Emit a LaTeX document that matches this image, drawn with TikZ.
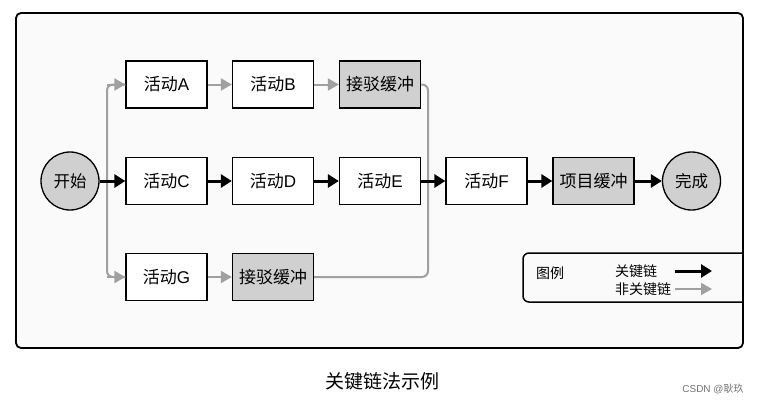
\documentclass[tikz,border=0pt]{standalone}
\usepackage{fontspec}
\setmainfont{Liberation Sans}
\newfontfamily\cjk{Noto Sans CJK SC}
\usetikzlibrary{arrows.meta}
\definecolor{boxgray}{HTML}{D0D0D0}
\definecolor{linegray}{HTML}{A0A0A0}
\definecolor{bggray}{HTML}{FAFAFA}
\tikzset{
  actbox/.style={draw=black, line width=1.3pt, fill=white, minimum width=81pt, minimum height=47pt, inner sep=0pt, font=\fontsize{17}{17}\selectfont},
  bufbox/.style={actbox, fill=boxgray},
  endpt/.style={draw=black, line width=1.3pt, fill=boxgray, circle, minimum size=58pt, inner sep=0pt, font=\fontsize{16.5}{16.5}\selectfont},
  crit/.style={line width=3pt, -{Triangle[length=11pt,width=13pt]}},
  noncrit/.style={draw=linegray, line width=2pt, -{Triangle[length=11pt,width=12pt]}, color=linegray},
  grayline/.style={draw=linegray, line width=2pt, rounded corners=6pt},
  legtext/.style={font=\fontsize{14}{14}\selectfont, inner sep=0pt}
}
\begin{document}
\begin{tikzpicture}[x=1pt,y=-1pt]
\useasboundingbox (0,0) rectangle (763,404);
\fill[white] (0,0) rectangle (763,404);
\draw[line width=1.8pt, fill=bggray, rounded corners=5pt] (16,13) rectangle (743,348);

% row 1
\node[actbox] (A) at (166.5,84.5) {{\cjk 活动}A};
\node[actbox] (B) at (273,84.5) {{\cjk 活动}B};
\node[bufbox] (J1) at (380,84.5) {\cjk 接驳缓冲};
% row 2
\node[endpt] (S) at (70,181) {\cjk 开始};
\node[actbox] (C) at (166.5,181) {{\cjk 活动}C};
\node[actbox] (D) at (273,181) {{\cjk 活动}D};
\node[actbox] (E) at (380,181) {{\cjk 活动}E};
\node[actbox] (F) at (486.5,181) {{\cjk 活动}F};
\node[bufbox] (P) at (593.5,181) {\cjk 项目缓冲};
\node[endpt] (Z) at (691.5,181) {\cjk 完成};
% row 3
\node[actbox] (G) at (166.5,277) {{\cjk 活动}G};
\node[bufbox] (J2) at (273,277) {\cjk 接驳缓冲};

% non-critical
\coordinate (sp) at (107,181);
\coordinate (mg) at (428,181);
\draw[grayline] (sp) -- (107,100) |- (A.west);
\draw[grayline] (sp) -- (107,260) |- (G.west);
\draw[noncrit] (107,84.5) -- (A.west);
\draw[noncrit] (107,277) -- (G.west);
\draw[noncrit] (A) -- (B);
\draw[noncrit] (B) -- (J1);
\draw[noncrit] (G) -- (J2);
\draw[grayline] (J1.east) -| (mg);
\draw[grayline] (J2.east) -| (mg);

% critical
\draw[crit] (S) -- (C);
\draw[crit] (C) -- (D);
\draw[crit] (D) -- (E);
\draw[crit] (E) -- (F);
\draw[crit] (F) -- (P);
\draw[crit] (P) -- (Z);

% legend
\draw[line width=1.5pt, rounded corners=6pt] (743,253) -- (523,253) -- (523,302) -- (743,302);
\node[legtext, anchor=west] (lg) at (536,273) {\cjk 图例};
\node[legtext, anchor=west] (k1) at (615,271) {\cjk 关键链};
\node[legtext, anchor=west] (k2) at (615,289) {\cjk 非关键链};
\coordinate (a1s) at (675,271);
\coordinate (a1e) at (712,271);
\coordinate (a2s) at (675,289);
\coordinate (a2e) at (712,289);
\draw[crit] (a1s) -- (a1e);
\draw[noncrit] (a2s) -- (a2e);

% caption
\node[font=\fontsize{19}{19}\selectfont\cjk, inner sep=0pt] (cap) at (382,381) {关键链法示例};
\node[font=\fontsize{10}{10}\selectfont, text=black!55, inner sep=0pt] (wm) at (713,389) {CSDN @{\cjk 耿玖}};
\end{tikzpicture}
\end{document}
